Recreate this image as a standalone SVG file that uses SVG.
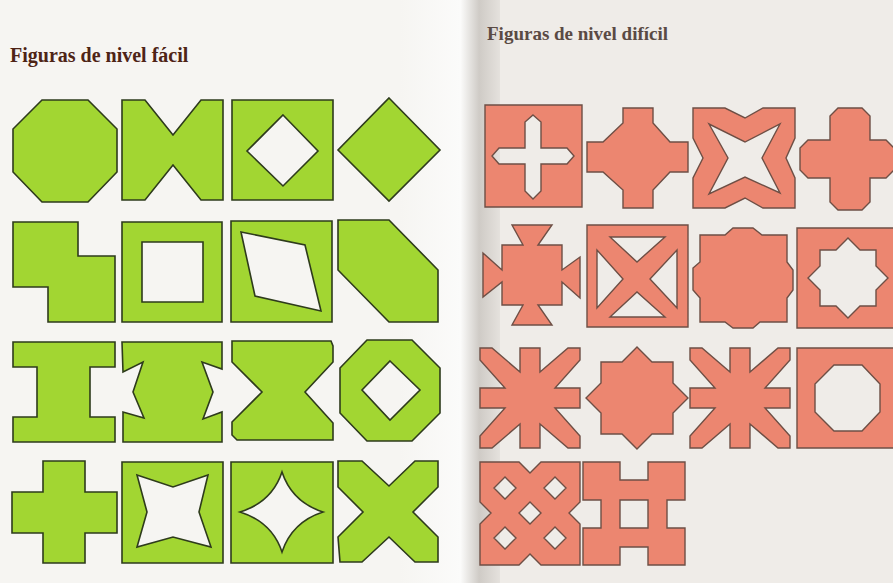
<svg xmlns="http://www.w3.org/2000/svg" width="893" height="583" viewBox="0 0 893 583">
<defs>
<linearGradient id="gutter" x1="0" y1="0" x2="1" y2="0">
<stop offset="0" stop-color="#f6f5f2"/>
<stop offset="0.55" stop-color="#fbfbfa"/>
<stop offset="0.72" stop-color="#cfcbc6"/>
<stop offset="1" stop-color="#efece8"/>
</linearGradient>
<style>
.g{fill:#a2d632;stroke:#2e3b1c;stroke-width:1.6;fill-rule:evenodd;stroke-linejoin:miter}
.r{fill:#ec8670;stroke:#6e4f45;stroke-width:1.4;fill-rule:evenodd}
.t{font-family:"Liberation Serif","DejaVu Serif",serif;font-weight:bold}
</style>
</defs>
<rect x="0" y="0" width="893" height="583" fill="#f6f5f2"/>
<rect x="400" y="0" width="110" height="583" fill="url(#gutter)"/>
<rect x="500" y="0" width="393" height="583" fill="#efece8"/>
<text class="t" x="10" y="62" font-size="20" fill="#4e2416">Figuras de nivel fácil</text>
<text class="t" x="487" y="40" font-size="19" fill="#5a4a44">Figuras de nivel difícil</text>

<g id="easy-1"><path class="g" d="M42,100H88L117,129V172L88,202H42L13,172V129Z"/></g>
<g id="easy-2"><path class="g" d="M122,100H145L173,135L201,100H223V200H201L173,165L145,200H122Z"/></g>
<g id="easy-3"><path class="g" d="M232,100H333V200H232Z M283,115L318,151L283,186L247,151Z"/></g>
<g id="easy-4"><path class="g" d="M389,98L440,150L389,201L338,150Z"/></g>

<g id="easy-5"><path class="g" d="M13,222H78V256H115V322H48V287H13Z"/></g>
<g id="easy-6"><path class="g" d="M122,222H222V322H122Z M142,242V302H203V242Z"/></g>
<g id="easy-7"><path class="g" d="M231,221H332V322H231Z M241,232L305,245L321,311L255,296Z"/></g>
<g id="easy-8"><path class="g" d="M338,220H389L438,270V322H389L338,270Z"/></g>

<g id="easy-9"><path class="g" d="M13,342H115V367H90V417H115V442H13V417H37V367H13Z"/></g>
<g id="easy-10"><path class="g" d="M122,342H222V369L202,362L213,392L203,419L222,412V442H123V412L144,418L133,392L143,362L123,372Z"/></g>
<g id="easy-11"><path class="g" d="M232,341H331L333,346V362L305,392L333,423V440H237L232,435V422L262,392L232,362Z"/></g>
<g id="easy-12"><path class="g" d="M367,340H412L440,368V413L412,441H367L340,413V368Z M390,361L420,390L390,420L362,390Z"/></g>

<g id="easy-13"><path class="g" d="M43,461H85V492H117V533H85V563H43V533H12V492H43Z"/></g>
<g id="easy-14"><path class="g" d="M122,462H223V563H122Z M137,475L173,487L208,475L199,512L211,547L173,537L137,547L147,512Z"/></g>
<g id="easy-15"><path class="g" d="M231,462H333V563H231Z M282,472Q292,502 323,512Q292,522 282,552Q272,522 240,512Q272,502 282,472Z"/></g>
<g id="easy-16"><path class="g" d="M338,461H362L389,486L415,461H438V487L413,512L438,537V562H415L389,537L362,562H340L338,537L363,512L338,487Z"/></g>

<g id="hard-1"><path class="r" d="M485,105H582V207H485Z M533,115L541,122V148H567L574,156L567,164H541V191L533,199L525,191V164H499L492,156L499,148H525V122Z"/></g>
<g id="hard-2"><path class="r" d="M623,108H653V123L670,142H688V172H670L653,190V208H623V190L603,172H587V142H603L623,123Z"/></g>
<g id="hard-3"><path class="r" d="M693,108H725L745,118L763,108H795V138L786,158L795,178V208H763L745,198L725,208H693V178L703,158L693,138Z M709,124L728,158L709,194L745,177L780,193L762,158L780,124L745,142Z"/></g>
<g id="hard-4"><path class="r" d="M838,108H862L870,116V140H886L894,148V170L886,178H870V202L862,210H838L830,202V178H808L800,170V148L808,140H830V116Z"/></g>

<g id="hard-5"><path class="r" d="M512,225H552L538,245H562V270L580,257V298L562,282V305H538L552,325H512L523,305H502V282L483,297V253L502,270V245H523Z"/></g>
<g id="hard-6"><path class="r" d="M587,225H688V327H587Z M610,237H665L637,262Z M597,250V308L623,279Z M677,250V308L650,279Z M610,317H665L637,292Z"/></g>
<g id="hard-7"><path class="r" d="M733,228H753L762,235H787V262L793,270V290L787,298V322H760L753,328H733L725,322H700V298L693,290V268L700,262V235H725Z"/></g>
<g id="hard-8"><path class="r" d="M797,228H896V328H797Z M848,238L860,250H876V266L888,278L876,290V306H860L848,318L836,306H820V290L808,278L820,266V250H836Z"/></g>

<g id="hard-9"><path class="r" d="M520,348H540V372L568,348H580V360L555,388H580V408L555,408L580,436V448H568L540,424V448H520V424L492,448H480V436L505,408H480V388H505L480,360V348H492L520,372Z"/></g>
<g id="hard-10"><path class="r" d="M637,347L652,362H673V383L688,398L673,413V434H652L637,449L622,434H601V413L586,398L601,383V362H622Z"/></g>
<g id="hard-11"><path class="r" d="M730,348H750V372L778,348H790V360L765,388H790V408L765,408L790,436V448H778L750,424V448H730V424L702,448H690V436L715,408H690V388H715L690,360V348H702L730,372Z"/></g>
<g id="hard-12"><path class="r" d="M797,348H896V448H797Z M834,365H862L880,384V412L862,431H834L815,412V384Z"/></g>

<g id="hard-13"><path class="r" d="M480,462H519L530,473L541,462H580V502L569,513L580,524V565H541L530,554L519,565H480V524L491,513L480,502Z M505,477L516,488L505,499L494,488Z M555,477L566,488L555,499L544,488Z M530,502L541,513L530,524L519,513Z M505,527L516,538L505,549L494,538Z M555,527L566,538L555,549L544,538Z"/></g>
<g id="hard-14"><path class="r" d="M583,462H620V480H648V462H685V500H667V528H685V565H648V547H620V565H583V528H601V500H583Z M620,500H648V528H620Z"/></g>
</svg>
